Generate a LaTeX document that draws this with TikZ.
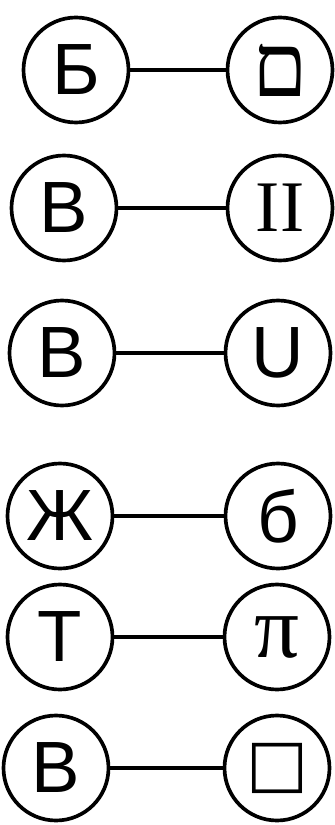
\documentclass[tikz,border=0pt]{standalone}
\usepackage{fontspec}
\setmainfont{Liberation Sans}
\newfontfamily\serifglyph{Liberation Serif}
\newfontfamily\symglyph{DejaVu Sans}
\TeXXeTstate=1
\usetikzlibrary{positioning}
\tikzstyle{glyph} = [
  circle, minimum size=3.15cm, inner sep=0pt, outer sep=0pt,
  draw=black, line width=0.11cm,
  font=\fontsize{62}{62}\selectfont
]
\tikzstyle{bigglyph} = [
  glyph, font=\fontsize{76}{76}\selectfont
]
\tikzstyle{link} = [
  line width=0.1cm, color=black
]

\begin{document}
\begin{tikzpicture}[node distance=1cm and 3.3cm]
  \useasboundingbox (-2.28,2.1) rectangle (7.74,-22.65);

  \node[glyph] (be) {Б};
  \node[glyph, below=0.99cm of be, xshift=-0.36cm] (ve) {В};
  \node[glyph, below=1.2cm of ve, xshift=-0.06cm] (vetwo) {В};
  \node[glyph, below=1.74cm of vetwo, xshift=-0.06cm] (zhe) {Ж};
  \node[glyph, below=0.48cm of zhe] (te) {Т};
  \node[glyph, below=0.78cm of te, xshift=-0.12cm] (vethree) {В};

  \node[bigglyph, right=2.97cm of be] (mem) {\serifglyph\beginR ם\endR};
  \node[glyph, right=3.33cm of ve] (roman) {\serifglyph II};
  \node[glyph, right=3.33cm of vetwo] (cup) {U};
  \node[glyph, right=3.39cm of zhe] (curl) {б};
  \node[bigglyph, right=3.36cm of te] (pi) {\serifglyph π};
  \node[glyph, right=3.48cm of vethree,
        font=\symglyph\fontsize{56}{56}\selectfont] (box) {□};

  \draw[link] (be) -- (mem);
  \draw[link] (ve) -- (roman);
  \draw[link] (vetwo) -- (cup);
  \draw[link] (zhe) -- (curl);
  \draw[link] (te) -- (pi);
  \draw[link] (vethree) -- (box);

\end{tikzpicture}
\end{document}
